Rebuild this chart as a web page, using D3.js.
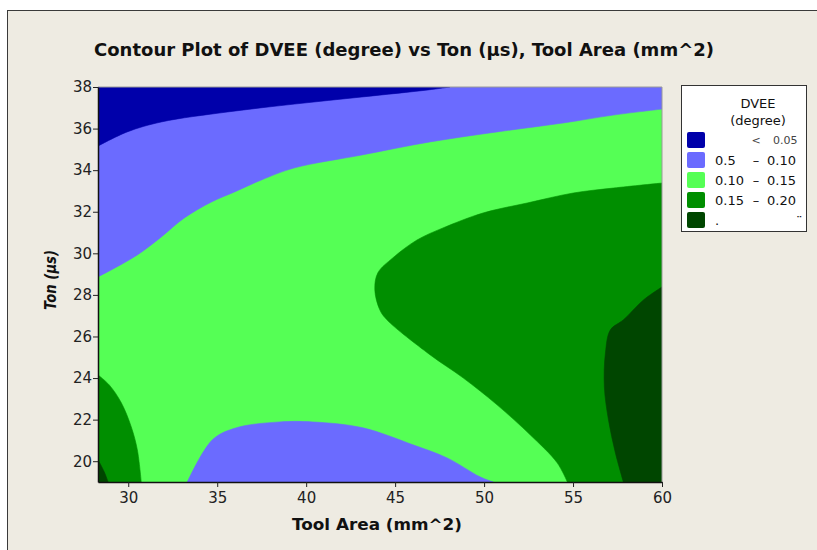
<!DOCTYPE html>
<html>
<head>
<meta charset="utf-8">
<script src="https://cdn.jsdelivr.net/npm/d3@7"></script>
<style>
  html, body { margin: 0; padding: 0; background: #ffffff; }
  svg { display: block; }
  text { font-family: "DejaVu Sans", Verdana, sans-serif; }
</style>
</head>
<body>
<div id="chart"></div>
<script>
// ---------- data ----------
const titleText = "Contour Plot of DVEE (degree) vs Ton (µs), Tool Area (mm^2)";
const xLabel = "Tool Area (mm^2)";
const yLabel = "Ton (µs)";
const xDomain = [28.3, 60];
const yDomain = [19, 38];
const xTicks = [30, 35, 40, 45, 50, 55, 60];
const yTicks = [20, 22, 24, 26, 28, 30, 32, 34, 36, 38];

const legendTitle = ["DVEE", "(degree)"];
const levelColors = ["#0000AA", "#6B6BFF", "#55FF55", "#008E00", "#004600"];
const legendLow  = ["", "0.5", "0.10", "0.15", "."];
const legendSep  = ["<", "–", "–", "–", ""];
const legendHigh = ["0.05", "0.10", "0.15", "0.20", "\u00A8"];

// contour boundaries, [Tool Area, Ton]
// level 0.05 boundary (dark blue / light blue), top-left
const contour005Top = [[28.3,35.16],[29.94,35.84],[31.86,36.32],[35.58,36.80],[39.35,37.18],[43.13,37.52],[46.85,37.86],[48.08,38]];
// level 0.10 boundary (light blue / green), upper band
const contour010Top = [[28.3,28.87],[29.04,29.20],[30.51,29.92],[31.86,30.79],[33.15,31.70],[34.68,32.47],[35.97,32.95],[37.49,33.53],[39.35,34.11],[43.13,34.73],[46.96,35.36],[50.73,35.84],[54.45,36.27],[57.27,36.65],[60,36.94]];
// level 0.10 boundary, bottom basin
const contour010Bottom = [[33.32,19],[34.73,21.03],[36.08,21.61],[38.51,21.89],[40.37,21.89],[43.18,21.61],[46.00,20.79],[47.92,20.16],[49.77,19.25],[50.51,19]];
// level 0.15 boundary, right lobe
const contour015Right = [[60,33.38],[57.27,33.14],[55.01,32.90],[52.42,32.42],[49.94,31.94],[47.69,31.22],[46.23,30.64],[44.87,29.78],[44.03,29.06],[43.86,28.24],[44.14,27.28],[44.54,26.80],[46.96,25.12],[48.82,24.01],[50.73,22.71],[52.59,21.27],[54.11,19.92],[54.68,19]];
// level 0.15 boundary, bottom-left corner
const contour015Left = [[28.3,24.15],[28.93,23.67],[29.61,22.81],[30.17,21.65],[30.51,20.55],[30.73,19]];
// level 0.20 boundary, right edge
const contour020Right = [[60,28.38],[58.96,27.76],[57.83,26.80],[57.10,26.32],[56.82,25.21],[56.76,23.58],[56.99,21.99],[57.38,20.40],[57.83,19]];
// level 0.20 boundary, bottom-left corner
const contour020Left = [[28.3,20.07],[28.65,19.49],[28.87,19]];

// ---------- layout ----------
const W = 817, H = 550;
const plot = { left: 98, right: 662, top: 87, bottom: 482 };

const svg = d3.select("#chart").append("svg").attr("width", W).attr("height", H);

// frame background
svg.append("rect").attr("x", 0).attr("y", 0).attr("width", W).attr("height", H).attr("fill", "#ffffff");
svg.append("rect").attr("x", 7.5).attr("y", 10.5).attr("width", W + 10).attr("height", H + 10)
  .attr("fill", "#EEEBE2").attr("stroke", "#3a3a3a").attr("stroke-width", 1);

const x = d3.scaleLinear().domain(xDomain).range([plot.left, plot.right]);
const y = d3.scaleLinear().domain(yDomain).range([plot.bottom, plot.top]);

svg.append("defs").append("clipPath").attr("id", "plotclip")
  .append("rect").attr("x", plot.left).attr("y", plot.top)
  .attr("width", plot.right - plot.left).attr("height", plot.bottom - plot.top);

const g = svg.append("g").attr("clip-path", "url(#plotclip)");

const curve = d3.line().x(d => x(d[0])).y(d => y(d[1])).curve(d3.curveCatmullRom.alpha(0.5));
function region(boundary, corners) {
  return curve(boundary) + corners.map(c => `L${x(c[0])},${y(c[1])}`).join("") + "Z";
}

// base level 0.10–0.15
g.append("rect").attr("x", x(xDomain[0])).attr("y", y(yDomain[1]))
  .attr("width", x(xDomain[1]) - x(xDomain[0])).attr("height", y(yDomain[0]) - y(yDomain[1]))
  .attr("fill", levelColors[2]);

const regions = [
  { b: contour010Top,    c: [[xDomain[1], yDomain[1]], [xDomain[0], yDomain[1]]], col: levelColors[1] },
  { b: contour005Top,    c: [[xDomain[0], yDomain[1]]], col: levelColors[0] },
  { b: contour010Bottom, c: [], col: levelColors[1] },
  { b: contour015Right,  c: [[xDomain[1], yDomain[0]]], col: levelColors[3] },
  { b: contour020Right,  c: [[xDomain[1], yDomain[0]]], col: levelColors[4] },
  { b: contour015Left,   c: [[xDomain[0], yDomain[0]]], col: levelColors[3] },
  { b: contour020Left,   c: [[xDomain[0], yDomain[0]]], col: levelColors[4] }
];
g.selectAll("path.region").data(regions).enter().append("path")
  .attr("class", "region")
  .attr("d", d => region(d.b, d.c))
  .attr("fill", d => d.col)
  .attr("stroke", d => d.col).attr("stroke-width", 0.6);

// plot frame
svg.append("line").attr("x1", plot.right).attr("x2", plot.right).attr("y1", plot.top).attr("y2", plot.bottom)
  .attr("stroke", "#9a9a9a").attr("stroke-width", 1);
svg.append("line").attr("x1", plot.left).attr("x2", plot.right).attr("y1", plot.top).attr("y2", plot.top)
  .attr("stroke", "#9a9a9a").attr("stroke-width", 1);

// axes
const xAxis = d3.axisBottom(x).tickValues(xTicks).tickSize(5).tickPadding(5).tickSizeOuter(0);
const yAxis = d3.axisLeft(y).tickValues(yTicks).tickSize(5).tickPadding(1).tickSizeOuter(0);

const gx = svg.append("g").attr("transform", `translate(0,${plot.bottom})`).call(xAxis);
const gy = svg.append("g").attr("transform", `translate(${plot.left},0)`).call(yAxis);
[gx, gy].forEach(a => {
  a.select(".domain").attr("stroke", "#111").attr("stroke-width", 1.5);
  a.selectAll(".tick line").attr("stroke", "#222");
  a.selectAll(".tick text").attr("fill", "#222").style("font-size", "15px")
    .style("font-family", "'DejaVu Sans', Verdana, sans-serif");
});

// title
svg.append("text").attr("x", 404).attr("y", 56).attr("text-anchor", "middle")
  .style("font-size", "18px").style("font-weight", "bold").attr("fill", "#111")
  .attr("textLength", 620).attr("lengthAdjust", "spacingAndGlyphs")
  .text(titleText);

// axis titles
svg.append("text").attr("x", 377).attr("y", 530).attr("text-anchor", "middle")
  .style("font-size", "16px").style("font-weight", "bold").attr("fill", "#111")
  .attr("textLength", 170).attr("lengthAdjust", "spacingAndGlyphs")
  .text(xLabel);
svg.append("text").attr("transform", "translate(56,280) rotate(-90)").attr("text-anchor", "middle")
  .style("font-size", "15.5px").style("font-weight", "bold").style("font-style", "italic").attr("fill", "#111")
  .attr("textLength", 60).attr("lengthAdjust", "spacingAndGlyphs")
  .text(yLabel);

// legend
const lg = svg.append("g");
lg.append("rect").attr("x", 681.5).attr("y", 85.5).attr("width", 125).attr("height", 146)
  .attr("fill", "#ffffff").attr("stroke", "#333").attr("stroke-width", 1);
lg.selectAll("text.lt").data(legendTitle).enter().append("text").attr("class", "lt")
  .attr("x", 758).attr("y", (d, i) => 108 + i * 17).attr("text-anchor", "middle")
  .style("font-size", "13px").attr("fill", "#111").text(d => d);

const rows = lg.selectAll("g.row").data(levelColors).enter().append("g").attr("class", "row")
  .attr("transform", (d, i) => `translate(0,${132 + i * 20})`);
rows.append("rect").attr("x", 687).attr("y", 0).attr("width", 18).attr("height", 16).attr("rx", 2)
  .attr("fill", d => d);
rows.append("text").attr("x", 715).attr("y", 13).style("font-size", "13px").attr("fill", "#111")
  .text((d, i) => legendLow[i]);
rows.append("text").attr("x", 756).attr("y", (d, i) => i === 0 ? 12 : 13).attr("text-anchor", "middle")
  .style("font-size", (d, i) => i === 0 ? "11px" : "13px").attr("fill", (d, i) => i === 0 ? "#444" : "#111")
  .text((d, i) => legendSep[i]);
rows.append("text").attr("x", (d, i) => i === 0 ? 773 : (i === 4 ? 796 : 767)).attr("y", (d, i) => i === 0 ? 12 : 13)
  .style("font-size", (d, i) => i === 0 ? "11px" : "13px").attr("fill", (d, i) => i === 0 ? "#444" : "#111")
  .text((d, i) => legendHigh[i]);
</script>
</body>
</html>
